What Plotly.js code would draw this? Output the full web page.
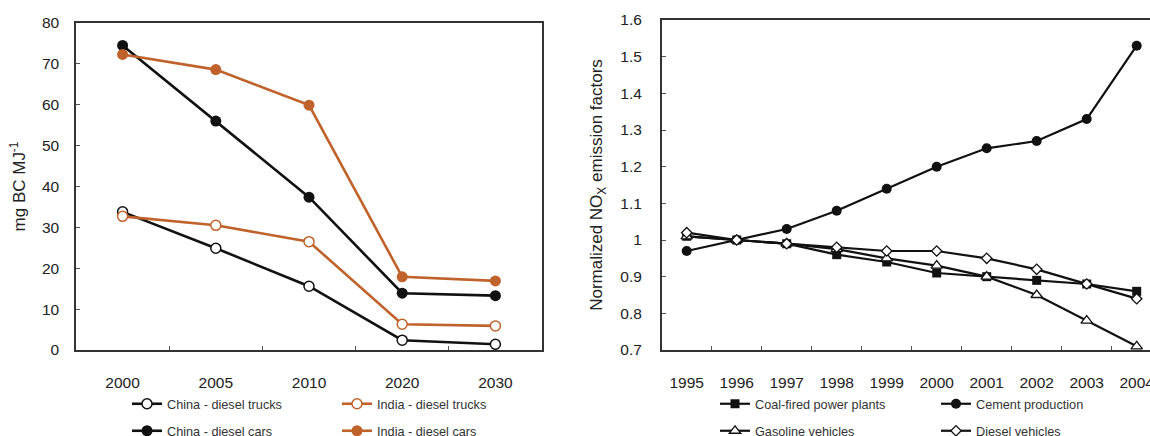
<!DOCTYPE html>
<html>
<head>
<meta charset="utf-8">
<script src="https://cdn.plot.ly/plotly-3.0.1.min.js"></script>
<style>
html, body { margin:0; padding:0; width:1150px; height:436px; overflow:hidden; background:#fff; }
#chart { width:1180px; height:450px; }
</style>
</head>
<body>
<div id="chart"></div>
<script>
// ---- Left panel data (mg BC MJ^-1) ----
const bcYears = ['2000', '2005', '2010', '2020', '2030'];
const chinaTrucks = [33.8, 24.9, 15.6, 2.4, 1.4];
const indiaTrucks = [32.7, 30.5, 26.5, 6.3, 5.9];
const chinaCars = [74.5, 56.0, 37.4, 13.9, 13.3];
const indiaCars = [72.3, 68.6, 59.9, 17.9, 16.9];

// ---- Right panel data (normalized NOx emission factors) ----
const noxYears = ['1995', '1996', '1997', '1998', '1999', '2000', '2001', '2002', '2003', '2004'];
const coalPower = [1.01, 1.00, 0.99, 0.96, 0.94, 0.91, 0.90, 0.89, 0.88, 0.86];
const cement = [0.97, 1.00, 1.03, 1.08, 1.14, 1.20, 1.25, 1.27, 1.33, 1.53];
const gasoline = [1.01, 1.00, 0.99, 0.975, 0.95, 0.93, 0.90, 0.85, 0.78, 0.71];
const diesel = [1.02, 1.00, 0.99, 0.98, 0.97, 0.97, 0.95, 0.92, 0.88, 0.84];

const ORANGE = '#c0622b';
const BLACK = '#111111';
const FONT = 'Liberation Sans, Arial, sans-serif';

const W = 1180, H = 450;
const px = v => v / W;
const py = v => 1 - v / H;

const traces = [
  { x: bcYears, y: chinaTrucks, name: 'China - diesel trucks', mode: 'lines+markers', xaxis: 'x', yaxis: 'y', legend: 'legend',
    line: { color: BLACK, width: 2.6 }, marker: { symbol: 'circle', size: 10, color: '#fff', line: { color: BLACK, width: 1.5 } } },
  { x: bcYears, y: indiaTrucks, name: 'India - diesel trucks', mode: 'lines+markers', xaxis: 'x', yaxis: 'y', legend: 'legend',
    line: { color: ORANGE, width: 2.6 }, marker: { symbol: 'circle', size: 10, color: '#fff', line: { color: ORANGE, width: 1.5 } } },
  { x: bcYears, y: chinaCars, name: 'China - diesel cars', mode: 'lines+markers', xaxis: 'x', yaxis: 'y', legend: 'legend2',
    line: { color: BLACK, width: 2.6 }, marker: { symbol: 'circle', size: 11, color: BLACK } },
  { x: bcYears, y: indiaCars, name: 'India - diesel cars', mode: 'lines+markers', xaxis: 'x', yaxis: 'y', legend: 'legend2',
    line: { color: ORANGE, width: 2.6 }, marker: { symbol: 'circle', size: 11, color: ORANGE } },

  { x: noxYears, y: coalPower, name: 'Coal-fired power plants', mode: 'lines+markers', xaxis: 'x2', yaxis: 'y2', legend: 'legend3',
    line: { color: BLACK, width: 2.2 }, marker: { symbol: 'square', size: 9, color: BLACK } },
  { x: noxYears, y: cement, name: 'Cement production', mode: 'lines+markers', xaxis: 'x2', yaxis: 'y2', legend: 'legend3',
    line: { color: BLACK, width: 2.2 }, marker: { symbol: 'circle', size: 10, color: BLACK } },
  { x: noxYears, y: gasoline, name: 'Gasoline vehicles', mode: 'lines+markers', xaxis: 'x2', yaxis: 'y2', legend: 'legend4',
    line: { color: BLACK, width: 2.2 }, marker: { symbol: 'triangle-up', size: 10, color: '#fff', line: { color: BLACK, width: 1.3 } } },
  { x: noxYears, y: diesel, name: 'Diesel vehicles', mode: 'lines+markers', xaxis: 'x2', yaxis: 'y2', legend: 'legend4',
    line: { color: BLACK, width: 2.2 }, marker: { symbol: 'diamond', size: 8, color: '#fff', line: { color: BLACK, width: 1.3 } } }
];

const axisCommon = {
  showgrid: false, zeroline: false, showline: true, mirror: true,
  linecolor: '#333', linewidth: 1.7, ticks: 'inside', ticklen: 4, tickcolor: '#555',
  tickfont: { family: FONT, size: 15.5, color: '#222' }
};

const legendCommon = {
  orientation: 'h', xref: 'paper', yref: 'paper', xanchor: 'left', yanchor: 'middle',
  bgcolor: 'rgba(0,0,0,0)', borderwidth: 0, entrywidthmode: 'pixels',
  font: { family: FONT, size: 12.7, color: '#333' }, tracegroupgap: 0
};

const layout = {
  width: W, height: H,
  margin: { l: 0, r: 0, t: 0, b: 0 },
  paper_bgcolor: '#fff', plot_bgcolor: '#fff',
  showlegend: true,
  xaxis: Object.assign({}, axisCommon, {
    domain: [px(76), px(542)], anchor: 'y', type: 'category', range: [-0.5, 4.5],
    tickson: 'boundaries', ticklabelstandoff: 18
  }),
  yaxis: Object.assign({}, axisCommon, {
    domain: [py(350), py(23)], anchor: 'x', range: [0, 80], dtick: 10,
    ticklabelstandoff: 12,
    title: { text: 'mg BC MJ<sup>-1</sup>', standoff: 12, font: { family: FONT, size: 17, color: '#222' } }
  }),
  xaxis2: Object.assign({}, axisCommon, {
    domain: [px(661.7), px(1161.7)], anchor: 'y2', type: 'category', range: [-0.5, 9.5],
    tickson: 'boundaries', ticklabelstandoff: 18
  }),
  yaxis2: Object.assign({}, axisCommon, {
    domain: [py(350), py(20)], anchor: 'x2', range: [0.7, 1.6],
    tickvals: [0.7, 0.8, 0.9, 1.0, 1.1, 1.2, 1.3, 1.4, 1.5, 1.6],
    ticktext: ['0.7', '0.8', '0.9', '1', '1.1', '1.2', '1.3', '1.4', '1.5', '1.6'],
    ticklabelstandoff: 15,
    title: { text: 'Normalized NO<sub>X</sub> emission factors', standoff: 13, font: { family: FONT, size: 17, color: '#222' } }
  }),
  legend: Object.assign({}, legendCommon, { x: px(127), y: py(404), entrywidth: 165 }),
  legend2: Object.assign({}, legendCommon, { x: px(127), y: py(431), entrywidth: 165 }),
  legend3: Object.assign({}, legendCommon, { x: px(715), y: py(404), entrywidth: 176 }),
  legend4: Object.assign({}, legendCommon, { x: px(715), y: py(431), entrywidth: 176 })
};

Plotly.newPlot('chart', traces, layout, { displayModeBar: false, staticPlot: true });
</script>
</body>
</html>
